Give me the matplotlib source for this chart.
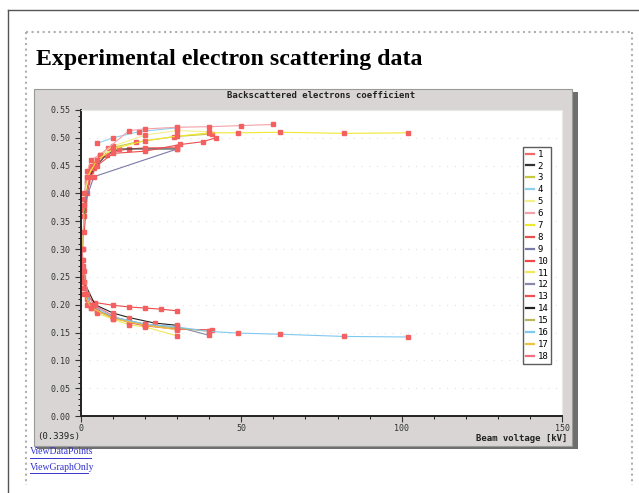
import matplotlib
matplotlib.use("Agg")
import matplotlib.pyplot as plt
from matplotlib.patches import Rectangle
from matplotlib.lines import Line2D

# beam voltage [kV] and backscattered electron coefficient, one pair per series
kv1 = [0.5, 1, 2, 3, 5, 10, 15, 20, 30]
eta1 = [0.30, 0.37, 0.42, 0.44, 0.46, 0.475, 0.48, 0.482, 0.483]
kv2 = [1, 2, 4, 8, 12, 20, 30]
eta2 = [0.36, 0.42, 0.445, 0.47, 0.48, 0.48, 0.48]
kv3 = [0.5, 1, 2, 4, 8.5, 17, 29, 41]
eta3 = [0.30, 0.38, 0.43, 0.455, 0.481, 0.492, 0.502, 0.507]
kv4 = [5, 10, 18, 30]
eta4 = [0.49, 0.50, 0.511, 0.518]
kv5 = [1, 3, 6, 10, 20, 30, 40]
eta5 = [0.39, 0.45, 0.47, 0.485, 0.505, 0.513, 0.511]
kv6 = [1, 2, 3, 6, 15, 20, 30, 40, 50, 60]
eta6 = [0.40, 0.44, 0.46, 0.47, 0.513, 0.516, 0.519, 0.520, 0.522, 0.524]
kv7 = [2, 5, 10, 20, 30, 40, 49, 62, 82, 102]
eta7 = [0.43, 0.46, 0.48, 0.495, 0.503, 0.509, 0.509, 0.510, 0.508, 0.509]
kv8 = [1, 2, 3, 5, 10, 20, 31, 38, 42]
eta8 = [0.33, 0.40, 0.43, 0.45, 0.472, 0.476, 0.488, 0.493, 0.50]
kv9 = [1, 4, 30]
eta9 = [0.38, 0.43, 0.48]
kv10 = [0.3, 1, 2, 4.4, 10, 15, 20, 25, 30]
eta10 = [0.28, 0.24, 0.215, 0.204, 0.199, 0.196, 0.194, 0.192, 0.189]
kv11 = [0.3, 1, 3, 5, 10, 15, 20, 30]
eta11 = [0.27, 0.23, 0.20, 0.185, 0.174, 0.164, 0.160, 0.144]
kv12 = [0.5, 2, 5, 10, 20, 30, 40]
eta12 = [0.25, 0.21, 0.19, 0.178, 0.165, 0.160, 0.145]
kv13 = [0.5, 2, 5, 10, 15, 20, 30, 41]
eta13 = [0.26, 0.20, 0.188, 0.178, 0.168, 0.162, 0.156, 0.155]
kv14 = [1, 4.4, 10, 15, 23, 30]
eta14 = [0.24, 0.20, 0.185, 0.177, 0.167, 0.163]
kv15 = [0.5, 3, 10, 20, 30, 40]
eta15 = [0.27, 0.195, 0.176, 0.164, 0.158, 0.152]
kv16 = [1, 3, 10, 20, 30, 40, 49, 62, 82, 102]
eta16 = [0.23, 0.20, 0.178, 0.165, 0.160, 0.152, 0.149, 0.147, 0.143, 0.142]
kv17 = [1, 3, 10, 20, 30]
eta17 = [0.22, 0.195, 0.175, 0.163, 0.155]
kv18 = [0.3, 0.6, 1, 2, 4, 10]
eta18 = [0.30, 0.28, 0.26, 0.22, 0.20, 0.18]

kvs = [kv1, kv2, kv3, kv4, kv5, kv6, kv7, kv8, kv9, kv10, kv11, kv12,
       kv13, kv14, kv15, kv16, kv17, kv18]
etas = [eta1, eta2, eta3, eta4, eta5, eta6, eta7, eta8, eta9, eta10, eta11,
        eta12, eta13, eta14, eta15, eta16, eta17, eta18]
names = [str(i) for i in range(1, 19)]
colors = ["#f26b6b", "#333333", "#c8c840", "#8fd0ee", "#f4f08a", "#f4a0a8",
          "#f0e830", "#e85050", "#7a7aaa", "#f04848", "#f0e858", "#8888aa",
          "#f05050", "#222222", "#b8b860", "#80c8f0", "#f0c040", "#f07080"]

W, H = 639, 493
fig = plt.figure(figsize=(W / 100, H / 100), dpi=100)
fig.patch.set_facecolor("white")

def fx(p):
    return p / W

def fy(p):
    return 1 - p / H

# page frame
fig.add_artist(Line2D([fx(8), 1], [fy(10), fy(10)], color="#555555", lw=1))
fig.add_artist(Line2D([fx(8), fx(8)], [fy(10), 0], color="#555555", lw=1))
fig.add_artist(Line2D([fx(26), fx(632)], [fy(32), fy(32)], color="#b0b0b0", lw=1.5, ls=":"))
fig.add_artist(Line2D([fx(26), fx(26)], [fy(32), fy(485)], color="#b0b0b0", lw=1.5, ls=":"))
fig.add_artist(Line2D([fx(632), fx(632)], [fy(32), fy(485)], color="#b0b0b0", lw=1.5, ls=":"))

fig.text(fx(36), fy(60), "Experimental electron scattering data", family="Liberation Serif",
         weight="bold", fontsize=17.2, va="center", ha="left")

# gray chart panel with shadow, behind the axes
fig.add_artist(Rectangle((fx(37), fy(449)), fx(541), 357 / H, facecolor="#6e6e6e",
                         edgecolor="none", zorder=-2))
fig.add_artist(Rectangle((fx(34), fy(446)), fx(538), 357 / H, facecolor="#d9d5d5",
                         edgecolor="#9a9a9a", lw=0.8, zorder=-1))

ax = fig.add_axes([fx(81), fy(416), fx(481), 306 / H])
ax.set_facecolor("white")

for kv, eta, c, n in zip(kvs, etas, colors, names):
    ax.plot(kv, eta, color=c, lw=0.8, label=n, marker="s", markersize=2.3,
            markerfacecolor="#f46060", markeredgecolor="#f46060")

ax.set_xlim(0, 150)
ax.set_ylim(0, 0.55)
ax.set_xticks([0, 50, 100, 150])
ax.set_xticks(range(0, 151, 10), minor=True)
ax.set_yticks([i * 0.05 for i in range(12)])
ax.set_yticks([i * 0.01 for i in range(56)], minor=True)
ax.set_yticklabels(["%.2f" % (i * 0.05) for i in range(12)])
ax.grid(axis="y", which="major", color="#e2e2e2", ls=(0, (1, 6)), lw=0.8)
mono = "DejaVu Sans Mono"
ax.tick_params(labelsize=6, colors="#333333", length=4, width=0.8)
ax.tick_params(axis="x", pad=2)
ax.tick_params(which="minor", length=2, width=0.6)
for lab in ax.get_xticklabels() + ax.get_yticklabels():
    lab.set_family(mono)
for s in ["top", "right"]:
    ax.spines[s].set_color("#e8e8e8")
for s in ["left", "bottom"]:
    ax.spines[s].set_color("#222222")
    ax.spines[s].set_linewidth(1.4)

leg = ax.legend(loc="upper left", bbox_to_anchor=(fx(518), fy(142)),
                bbox_transform=fig.transFigure, prop={"family": mono, "size": 6.5},
                handlelength=0.9, handletextpad=0.4, labelspacing=0.32,
                borderpad=0.35, fancybox=False, edgecolor="#333333")
for h in leg.legend_handles:
    h.set_linewidth(1.6)
    h.set_marker("")

fig.text(fx(321), fy(96), "Backscattered electrons coefficient", family=mono,
         weight="bold", fontsize=6.5, ha="center", va="center", color="#222222")
fig.text(fx(37), fy(437), "(0.339s)", family=mono, fontsize=6.5, ha="left",
         va="center", color="#222222")
fig.text(fx(567), fy(438.5), "Beam voltage [kV]", family=mono, weight="bold",
         fontsize=6.5, ha="right", va="center", color="#222222")

fig.text(fx(30), fy(452), "ViewDataPoints", family="Liberation Serif", fontsize=7,
         color="#3333cc", va="center", ha="left")
fig.text(fx(30), fy(467), "ViewGraphOnly", family="Liberation Serif", fontsize=7,
         color="#3333cc", va="center", ha="left")
fig.add_artist(Line2D([fx(30), fx(91)], [fy(457.5), fy(457.5)], color="#3333cc", lw=0.7))
fig.add_artist(Line2D([fx(30), fx(88)], [fy(472.5), fy(472.5)], color="#3333cc", lw=0.7))

fig.savefig("out.png", dpi=100)
